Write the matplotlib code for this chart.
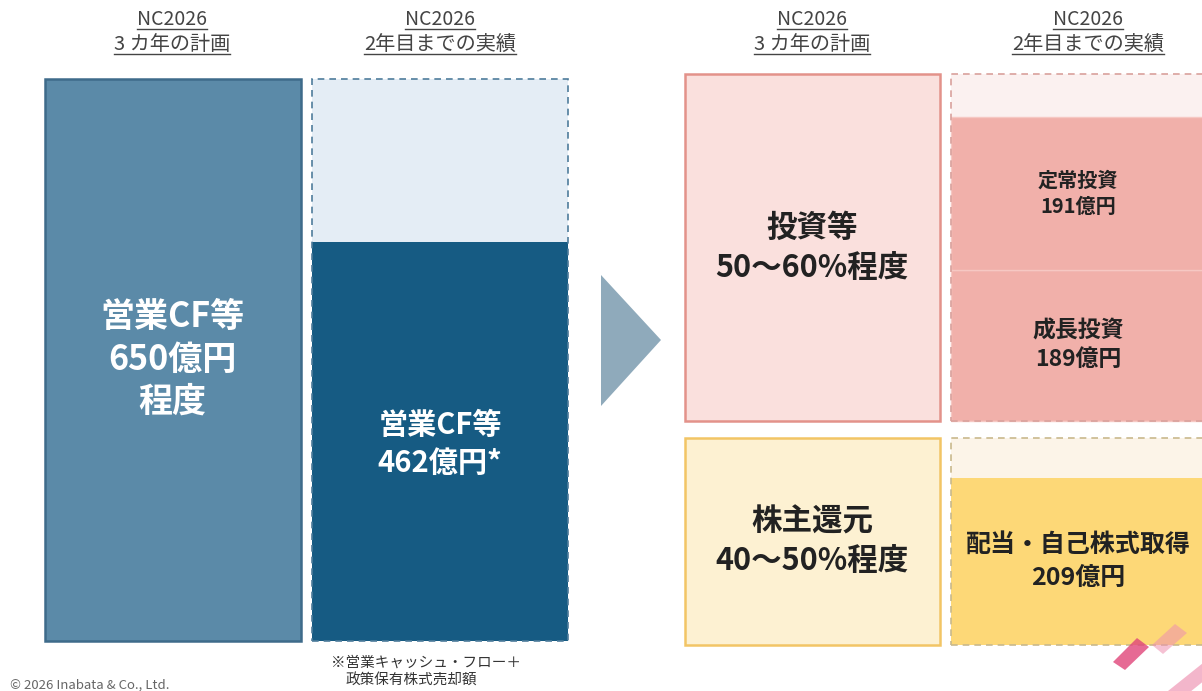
import matplotlib
matplotlib.use("Agg")
import matplotlib.pyplot as plt
from matplotlib.patches import Polygon

plt.rcParams['font.family'] = ['Noto Sans CJK JP', 'DejaVu Sans']

# --- values (億円) ---
plan_cf = 650
actual_cf = 462
invest_names = ['成長投資', '定常投資']      # stacked bottom -> top
invest_values = [189, 191]
return_value = 209

headers = [('NC2026', '3 カ年の計画'), ('NC2026', '2年目までの実績')]
plan_cf_text = ['営業CF等', f'{plan_cf}億円', '程度']
actual_cf_text = ['営業CF等', f'{actual_cf}億円*']
invest_plan_text = ['投資等', '50～60%程度']
return_plan_text = ['株主還元', '40～50%程度']
return_name = '配当・自己株式取得'
footnote = ['※営業キャッシュ・フロー＋', '政策保有株式売却額']
copyright_text = '© 2026 Inabata & Co., Ltd.'

# --- layout (pixel space, y down) ---
W, H = 1202, 691
fig = plt.figure(figsize=(W / 100, H / 100), dpi=100)
ax = fig.add_axes([0, 0, 1, 1])
ax.set_xlim(0, W)
ax.set_ylim(H, 0)
ax.axis('off')

left_base, left_top = 641, 79
left_scale = (left_base - left_top) / plan_cf
right_scale = 0.8
bw = 256
x_plan_l, x_act_l = 45, 312
x_plan_r, x_act_r = 685, 951

dash = (0, (4, 3))

# left: cash flow plan vs actual
ax.bar(x_plan_l, -plan_cf * left_scale, bottom=left_base, width=bw, align='edge',
       color='#5b8aa8', edgecolor='#3e6b8a', linewidth=1.8)
ax.bar(x_act_l, -(left_base - left_top), bottom=left_base, width=bw, align='edge',
       color='#e4edf5', edgecolor='none')
ax.bar(x_act_l, -actual_cf * left_scale, bottom=left_base, width=bw, align='edge',
       color='#165b83', edgecolor='none')
ax.bar(x_act_l, -(left_base - left_top), bottom=left_base, width=bw, align='edge',
       fill=False, edgecolor='#4f7d9c', linewidth=1.2, linestyle=dash)

# arrow
ax.add_patch(Polygon([(601, 275), (601, 406), (661, 340)], closed=True,
                     color='#8faabb', linewidth=0))

# right: investment
inv_top, inv_base = 74, 421
ax.bar(x_plan_r, -(inv_base - inv_top), bottom=inv_base, width=bw - 1, align='edge',
       color='#fae0dd', edgecolor='#e3928a', linewidth=1.8)
ax.bar(x_act_r, -(inv_base - inv_top), bottom=inv_base, width=270, align='edge',
       color='#fbf1f0', edgecolor='none')
bottom = inv_base
inv_mid = []
for name, v in zip(invest_names, invest_values):
    h = v * right_scale
    ax.bar(x_act_r, -h, bottom=bottom, width=270, align='edge',
           color='#f1b0aa', edgecolor='#f6c8c3', linewidth=1.0)
    inv_mid.append(bottom - h / 2)
    bottom -= h
ax.bar(x_act_r, -(inv_base - inv_top), bottom=inv_base, width=270, align='edge',
       fill=False, edgecolor='#d9a19c', linewidth=1.2, linestyle=dash)

# right: shareholder returns
ret_top, ret_base = 438, 645
ax.bar(x_plan_r, -(ret_base - ret_top), bottom=ret_base, width=bw - 1, align='edge',
       color='#fdf1d2', edgecolor='#f2c565', linewidth=1.8)
ax.bar(x_act_r, -(ret_base - ret_top), bottom=ret_base, width=270, align='edge',
       color='#fcf4e8', edgecolor='none')
ax.bar(x_act_r, -return_value * right_scale, bottom=ret_base, width=270, align='edge',
       color='#fdd877', edgecolor='none')
ax.bar(x_act_r, -(ret_base - ret_top), bottom=ret_base, width=270, align='edge',
       fill=False, edgecolor='#c9b98c', linewidth=1.2, linestyle=dash)

# decorative marks bottom right
ax.add_patch(Polygon([(1113, 662), (1125, 670), (1149, 647), (1137, 638)],
                     closed=True, color='#e0457a', alpha=0.8, linewidth=0))
ax.add_patch(Polygon([(1152, 645), (1163, 654), (1187, 633), (1175, 624)],
                     closed=True, color='#ee8fb0', alpha=0.55, linewidth=0))
ax.add_patch(Polygon([(1168, 691), (1180, 700), (1215, 672), (1203, 663)],
                     closed=True, color='#ee8fb0', alpha=0.65, linewidth=0))


def lines(x, ys, texts, size, color, weight='bold'):
    for y, t in zip(ys, texts):
        ax.text(x, y, t, ha='center', va='center', fontsize=size,
                color=color, fontweight=weight)


# headers with underline
hdr = []
for cx, (l1, l2) in zip([172, 440, 812, 1088], headers * 2):
    hdr.append(ax.text(cx, 19, l1, ha='center', va='center', fontsize=14, color='#444444'))
    hdr.append(ax.text(cx, 44, l2, ha='center', va='center', fontsize=14.5, color='#444444'))

lines(172, [316, 359, 401], plan_cf_text, 24.5, 'white')
lines(440, [425, 463], actual_cf_text, 21, 'white')
lines(812, [228, 268], invest_plan_text, 22, '#222222')
lines(812, [522, 561], return_plan_text, 22, '#222222')
lines(1078, [inv_mid[1] - 13, inv_mid[1] + 13], [invest_names[1], f'{invest_values[1]}億円'], 14.5, '#222222')
lines(1078, [inv_mid[0] - 14, inv_mid[0] + 14], [invest_names[0], f'{invest_values[0]}億円'], 16.5, '#222222')
lines(1078, [545, 578], [return_name, f'{return_value}億円'], 18, '#222222')

ax.text(331, 663, footnote[0], ha='left', va='center', fontsize=10.5, color='#333333')
ax.text(346, 681, footnote[1], ha='left', va='center', fontsize=10.5, color='#333333')
ax.text(10, 685, copyright_text, ha='left', va='center', fontsize=9.5, color='#666666')

fig.canvas.draw()
r = fig.canvas.get_renderer()
inv = ax.transData.inverted()
for t in hdr:
    bb = t.get_window_extent(r)
    (x0, y0), (x1, _) = inv.transform([(bb.x0, bb.y0), (bb.x1, bb.y0)])
    ax.plot([x0, x1], [y0 - 1, y0 - 1], color='#444444', linewidth=1.0)

fig.savefig('out.png', dpi=100)
